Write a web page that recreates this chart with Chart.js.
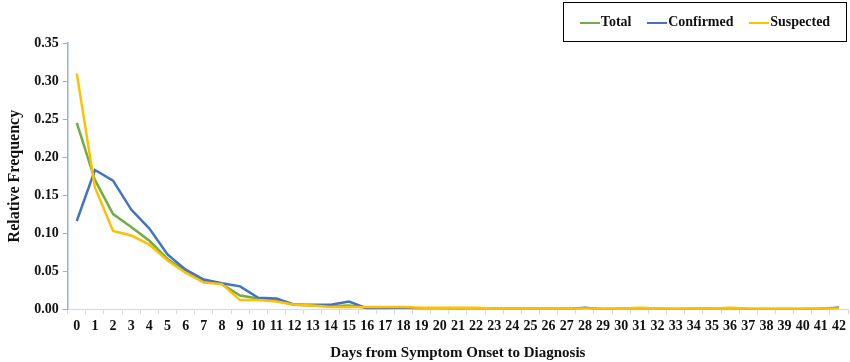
<!DOCTYPE html>
<html>
<head>
<meta charset="utf-8">
<script src="https://cdn.jsdelivr.net/npm/chart.js@4/dist/chart.umd.min.js"></script>
<style>
  html, body { margin: 0; padding: 0; background: #fff; }
  #wrap { position: relative; width: 850px; height: 362px; }
  #legend {
    position: absolute; left: 563px; top: 2px; width: 284px; height: 40px;
    border: 1.5px solid #000; box-sizing: border-box;
    font: bold 14px "Liberation Serif", serif; color: #111;
    display: flex; align-items: center; justify-content: space-around; padding: 0 8px;
  }
  #legend span.sw { display: inline-block; width: 20px; height: 2.5px; vertical-align: middle; margin-right: 1px; }
</style>
</head>
<body>
<div id="wrap">
  <canvas id="chart" width="850" height="362"></canvas>
  <div id="legend"></div>
</div>
<script>
// days 0..42
const days = Array.from({ length: 43 }, (_, i) => String(i));

const total = [0.245,0.170,0.125,0.108,0.090,0.066,0.050,0.037,0.033,0.018,0.014,0.011,0.006,0.005,0.004,0.005,0.002,0.002,0.002,0.001,0.001,0.001,0.001,0.001,0.001,0.001,0.001,0.001,0.001,0.000,0.001,0.001,0.001,0.000,0.001,0.001,0.001,0.000,0.000,0.000,0.000,0.001,0.002];
const confirmed = [0.116,0.183,0.169,0.131,0.106,0.072,0.052,0.039,0.034,0.030,0.015,0.014,0.006,0.006,0.006,0.010,0.001,0.001,0.002,0.001,0.001,0.000,0.000,0.000,0.000,0.000,0.000,0.000,0.002,0.000,0.000,0.000,0.000,0.000,0.000,0.000,0.000,0.000,0.000,0.000,0.000,0.000,0.002];
const suspected = [0.310,0.160,0.103,0.097,0.085,0.064,0.048,0.035,0.033,0.012,0.012,0.010,0.006,0.005,0.003,0.003,0.003,0.003,0.003,0.002,0.002,0.002,0.002,0.001,0.001,0.001,0.001,0.001,0.001,0.001,0.001,0.002,0.001,0.001,0.001,0.001,0.002,0.001,0.001,0.001,0.001,0.001,0.001];

const seriesNames = ['Total', 'Confirmed', 'Suspected'];
const seriesColors = ['#70ad47', '#4472c4', '#ffc000'];

const serif = '"Liberation Serif", "Times New Roman", serif';

// html legend with the box
const legend = document.getElementById('legend');
seriesNames.forEach((n, i) => {
  const d = document.createElement('div');
  d.innerHTML = `<span class="sw" style="background:${seriesColors[i]}"></span>${n}`;
  legend.appendChild(d);
});

const mk = (label, data, color, order) => ({
  label, data, borderColor: color, backgroundColor: color,
  borderWidth: 2.5, pointRadius: 0, tension: 0, fill: false, order
});

new Chart(document.getElementById('chart').getContext('2d'), {
  type: 'line',
  data: {
    labels: days,
    datasets: [
      mk('Total', total, seriesColors[0], 2),
      mk('Confirmed', confirmed, seriesColors[1], 1),
      mk('Suspected', suspected, seriesColors[2], 0)
    ]
  },
  options: {
    responsive: false,
    animation: false,
    layout: { padding: { top: 43, right: 1, left: 1, bottom: 0 } },
    plugins: { legend: { display: false }, tooltip: { enabled: false } },
    scales: {
      x: {
        offset: true,
        grid: { offset: true, drawOnChartArea: false, tickLength: 5, color: '#d9d9d9' },
        border: { color: '#d9d9d9', width: 1 },
        ticks: { color: '#111', font: { family: serif, size: 14, weight: 'bold' }, maxRotation: 0, autoSkip: false, padding: 4 },
        title: { display: true, text: 'Days from Symptom Onset to Diagnosis', color: '#111',
                 font: { family: serif, size: 15, weight: 'bold' }, padding: { top: 5, bottom: 0 } }
      },
      y: {
        min: 0, max: 0.35,
        grid: { drawOnChartArea: false, tickLength: 5, color: '#8fb4e3' },
        border: { color: '#8fb4e3', width: 1.5 },
        ticks: { stepSize: 0.05, color: '#111', font: { family: serif, size: 14, weight: 'bold' },
                 callback: v => v.toFixed(2), padding: 4 },
        title: { display: true, text: 'Relative Frequency', color: '#111',
                 font: { family: serif, size: 16, weight: 'bold' }, padding: { bottom: 6 } }
      }
    }
  }
});
</script>
</body>
</html>
